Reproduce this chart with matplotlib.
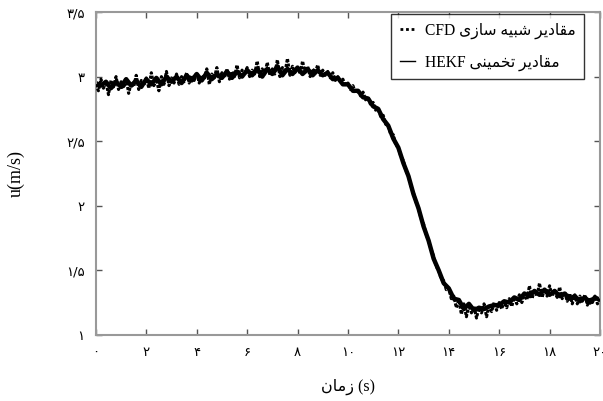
import numpy as np
import matplotlib
matplotlib.use("Agg")
import matplotlib.pyplot as plt
from matplotlib.lines import Line2D

# ---- data ----
time_cfd = np.round(np.arange(0, 20.0001, 0.1), 1)
cfd_values = [
    2.94, 2.89, 2.98, 2.91, 2.96, 2.86, 2.97, 2.92, 3.00, 2.90,
    2.96, 2.91, 2.99, 2.87, 2.95, 2.92, 3.01, 2.90, 2.97, 2.93,
    2.99, 2.91, 3.03, 2.93, 2.98, 2.89, 3.00, 2.94, 3.04, 2.93,
    2.99, 2.95, 3.02, 2.94, 3.00, 2.96, 3.03, 2.95, 3.01, 2.97,
    3.03, 2.95, 3.01, 2.98, 3.06, 2.94, 3.02, 2.99, 3.07, 2.96,
    3.03, 2.99, 3.06, 2.98, 3.04, 3.00, 3.09, 2.99, 3.05, 3.01,
    3.07, 3.00, 3.05, 3.02, 3.12, 3.00, 3.06, 3.02, 3.11, 3.01,
    3.06, 3.02, 3.13, 3.00, 3.07, 3.03, 3.14, 3.01, 3.08, 3.03,
    3.07, 3.02, 3.12, 3.03, 3.08, 3.00, 3.06, 3.03, 3.09, 3.01,
    3.05, 3.01, 3.04, 2.99, 3.03, 2.97, 3.00, 2.96, 2.98, 2.93,
    2.95, 2.90, 2.93, 2.87, 2.90, 2.85, 2.88, 2.82, 2.84, 2.78,
    2.80, 2.74, 2.75, 2.69, 2.70, 2.63, 2.62, 2.55, 2.55, 2.47,
    2.45, 2.38, 2.35, 2.27, 2.23, 2.15, 2.10, 2.03, 1.98, 1.90,
    1.86, 1.78, 1.73, 1.66, 1.61, 1.53, 1.50, 1.43, 1.42, 1.35,
    1.36, 1.28, 1.30, 1.21, 1.27, 1.16, 1.24, 1.14, 1.23, 1.17,
    1.22, 1.13, 1.21, 1.17, 1.24, 1.14, 1.22, 1.18, 1.25, 1.19,
    1.25, 1.20, 1.26, 1.21, 1.28, 1.22, 1.29, 1.24, 1.31, 1.25,
    1.32, 1.27, 1.38, 1.28, 1.34, 1.30, 1.40, 1.29, 1.35, 1.30,
    1.38, 1.30, 1.34, 1.29, 1.37, 1.28, 1.33, 1.26, 1.32, 1.24,
    1.31, 1.24, 1.30, 1.26, 1.31, 1.23, 1.29, 1.25, 1.30, 1.24,
    1.28,
]

time_hekf = np.round(np.arange(0, 20.0001, 0.2), 1)
hekf_values = [
    2.95, 2.93, 2.96, 2.91, 2.96, 2.92, 2.98, 2.93, 2.97, 2.92,
    2.98, 2.94, 2.99, 2.94, 3.00, 2.96, 3.00, 2.95, 3.01, 2.97,
    3.02, 2.97, 3.03, 2.98, 3.02, 2.99, 3.04, 2.99, 3.04, 3.00,
    3.05, 3.01, 3.06, 3.00, 3.06, 3.02, 3.08, 3.01, 3.06, 3.02,
    3.07, 3.02, 3.06, 3.01, 3.05, 3.01, 3.03, 2.98, 2.99, 2.94,
    2.94, 2.89, 2.89, 2.84, 2.83, 2.77, 2.75, 2.67, 2.62, 2.52,
    2.45, 2.33, 2.23, 2.09, 1.98, 1.84, 1.73, 1.59, 1.50, 1.40,
    1.36, 1.28, 1.27, 1.20, 1.24, 1.19, 1.21, 1.20, 1.22, 1.23,
    1.23, 1.26, 1.25, 1.29, 1.27, 1.32, 1.30, 1.34, 1.31, 1.35,
    1.31, 1.34, 1.30, 1.32, 1.28, 1.30, 1.26, 1.29, 1.25, 1.29,
    1.27,
]

x_ticks = [0, 2, 4, 6, 8, 10, 12, 14, 16, 18, 20]
x_tick_labels = ['۰', '۲', '۴', '۶', '۸', '۱۰', '۱۲', '۱۴', '۱۶', '۱۸', '۲۰']
y_ticks = [1, 1.5, 2, 2.5, 3, 3.5]
y_tick_labels = ['۱', '۱/۵', '۲', '۲/۵', '۳', '۳/۵']

# Persian strings, pre-shaped (presentation forms) in visual left-to-right order
w_maqadir = '\uFEAE\uFEF3\uFEA9\uFE8E\uFED8\uFEE3'
w_shabih = '\uFEEA\uFEF4\uFE92\uFEB7'
w_sazi = '\uFEEF\uFEAF\uFE8E\uFEB3'
w_takhmini = '\uFEF0\uFEE8\uFEF4\uFEE4\uFEA8\uFE97'
w_zaman = '\uFEE5\uFE8E\uFEE3\uFEAF'

label_cfd = 'CFD ' + w_sazi + ' ' + w_shabih + ' ' + w_maqadir
label_hekf = 'HEKF ' + w_takhmini + ' ' + w_maqadir
x_label = w_zaman + ' (s)'
y_label = 'u(m/s)'

# ---- figure ----
fig = plt.figure(figsize=(6.03, 4.01), dpi=100)
ax = fig.add_axes([0.159, 0.165, 0.836, 0.805])

ax.plot(time_hekf, hekf_values, linestyle='-', color='black',
        linewidth=3.2, label=label_hekf, zorder=2)
ax.plot(time_cfd, cfd_values, linestyle=(0, (1, 0.5)), color='black',
        linewidth=2.2, label=label_cfd, zorder=3)

ax.set_xlim(0, 20)
ax.set_ylim(1, 3.5)
ax.set_xticks(x_ticks)
ax.set_xticklabels(x_tick_labels, fontsize=9.5, family=['DejaVu Sans'])
ax.set_yticks(y_ticks)
ax.set_yticklabels(y_tick_labels, fontsize=9.5, family=['DejaVu Sans'])

ax.tick_params(direction='in', length=4, width=1, color='#555555',
               top=True, right=True, pad=8)
for s in ax.spines.values():
    s.set_color('#999999')
    s.set_linewidth(1.5)

ax.set_xlabel(x_label, fontsize=11.5, family=['Liberation Serif', 'DejaVu Sans'],
              labelpad=14)
ax.set_ylabel(y_label, fontsize=13, family=['Liberation Serif', 'DejaVu Sans'],
              labelpad=30)

# legend handles styled like the reference (small dots / thin line)
h_cfd = Line2D([], [], linestyle=(0, (1, 1)), color='black', linewidth=2.0)
h_hekf = Line2D([], [], linestyle='-', color='black', linewidth=1.0)
leg = ax.legend([h_cfd, h_hekf], [label_cfd, label_hekf], loc='upper right',
                bbox_to_anchor=(0.968, 0.994),
                frameon=True, fancybox=False, edgecolor='black',
                handlelength=1.0, borderpad=0.55, labelspacing=1.0,
                handletextpad=0.6, borderaxespad=0.0,
                prop={'family': ['Liberation Serif', 'DejaVu Sans'], 'size': 11.2})
leg.get_frame().set_linewidth(1.0)

fig.savefig('out.png', dpi=100)
